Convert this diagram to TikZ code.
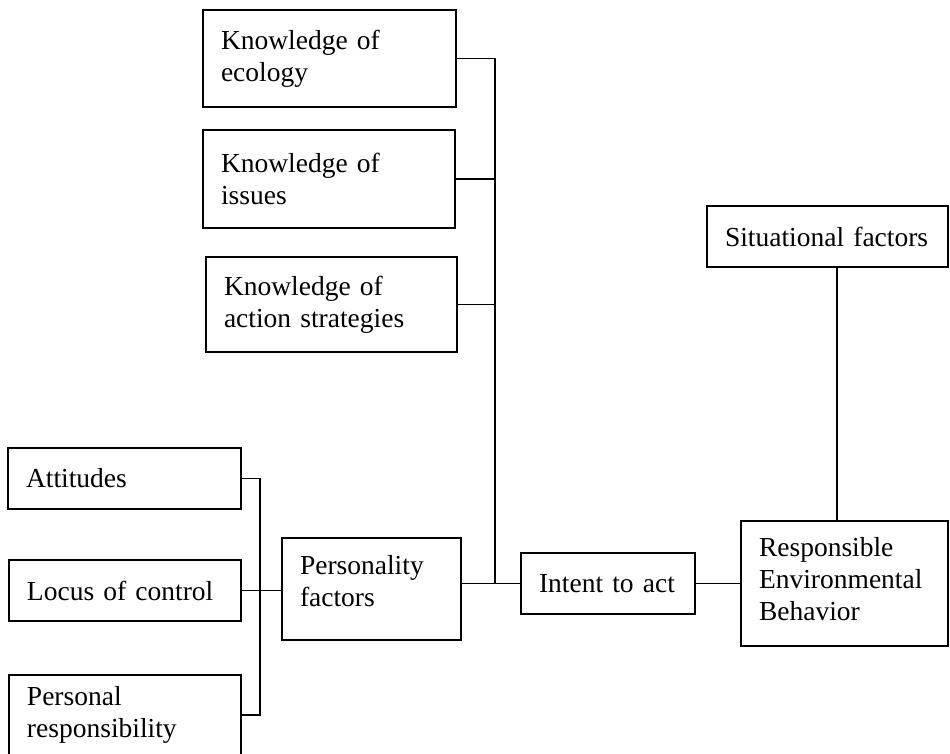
\documentclass[tikz,border=0pt]{standalone}
\usepackage{fontspec}
\setmainfont{Liberation Serif}
\tikzset{
	box/.style={draw,line width=1.3pt,align=left,inner xsep=18pt,inner ysep=0pt,font=\fontsize{27.5}{32}\selectfont},
	wire/.style={line width=1.3pt}
}
\begin{document}
\begin{tikzpicture}[x=1pt,y=-1pt]
		\useasboundingbox (0,0) rectangle (950,754);
		\node[box,text width=217pt,minimum height=97pt] (ecol) at (329.5,58.5) {Knowledge of\\ecology};
		\node[box,text width=216pt,minimum height=98pt] (issues) at (329,179) {Knowledge of\\issues};
		\node[box,text width=215pt,minimum height=95pt] (action) at (331.5,304.5) {Knowledge of\\action strategies};
		\node[box,text width=205pt,minimum height=61pt] (situ) at (827.5,236.5) {Situational factors};
		\node[box,text width=197pt,minimum height=61pt] (att) at (124.5,478.5) {Attitudes};
		\node[box,text width=196pt,minimum height=61pt] (locus) at (125,590.5) {Locus of control};
		\node[box,text width=196pt,minimum height=80pt] (persresp) at (125,715) {Personal\\responsibility};
		\node[box,text width=143pt,minimum height=102pt,text depth=48pt] (pers) at (371.5,589) {Personality\\factors};
		\node[box,text width=138pt,minimum height=61pt] (intent) at (608,583.5) {Intent to act};
		\node[box,text width=171pt,minimum height=125pt,text depth=74pt] (reb) at (844.5,583.5) {Responsible\\Environmental\\Behavior};
		\coordinate (kbus) at (495,583.5);
		\coordinate (pbus) at (260,590.5);
		\draw[wire] (ecol.east) -| (kbus);
		\draw[wire] (issues.east) -- (issues.east -| kbus);
		\draw[wire] (action.east) -- (action.east -| kbus);
		\draw[wire] (pers.east |- intent.west) -- (intent.west);
		\draw[wire] (intent) -- (reb);
		\draw[wire] ([xshift=9.5pt]situ.south) -- ([xshift=9.5pt]situ.south |- reb.north);
		\draw[wire] (att.east) -| (pbus) |- (persresp.east);
		\draw[wire] (locus.east) -- (locus.east -| pers.west);
\end{tikzpicture}
\end{document}
